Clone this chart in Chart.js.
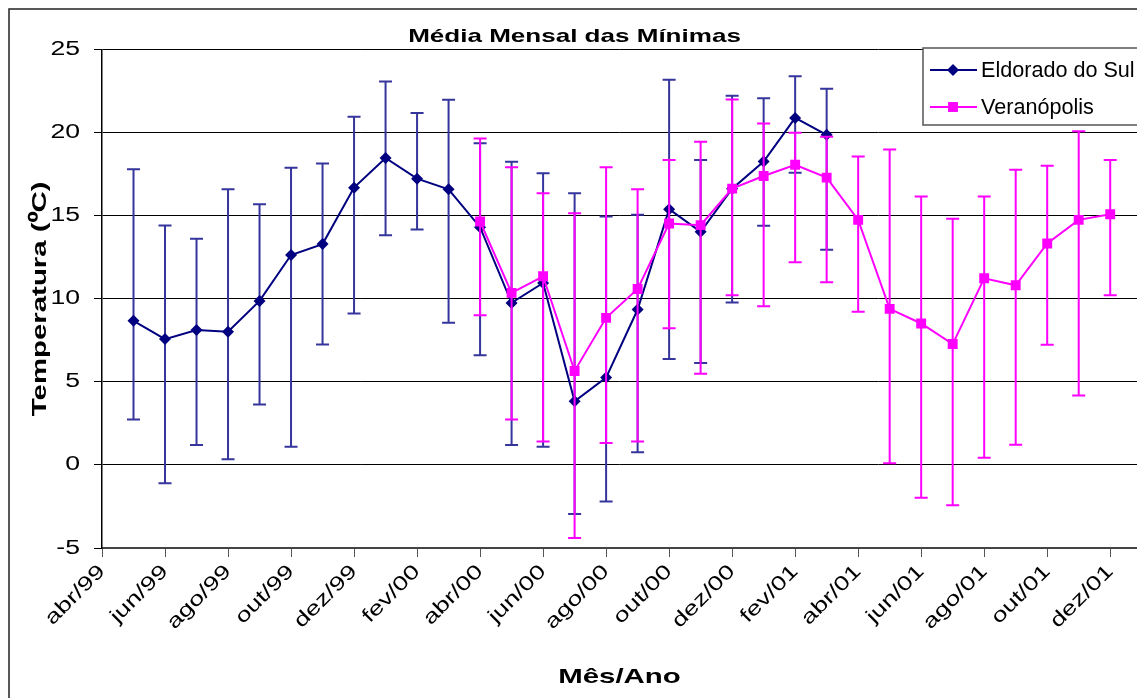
<!DOCTYPE html>
<html lang="pt">
<head>
    <meta charset="UTF-8">
    <title>Média Mensal das Mínimas</title>
    <style>
        body {
            margin: 0;
            background-color: #fff;
        }
        canvas {
            display: block;
        }
    </style>
    <script src="https://cdn.jsdelivr.net/npm/chart.js"></script>
</head>
<body>
    <canvas id="grafico" width="1137" height="698"></canvas>

    <script>
        // meses do eixo X (um por posição, abr/99 = 0)
        const meses = ['abr/99', 'mai/99', 'jun/99', 'jul/99', 'ago/99', 'set/99', 'out/99', 'nov/99', 'dez/99',
            'jan/00', 'fev/00', 'mar/00', 'abr/00', 'mai/00', 'jun/00', 'jul/00', 'ago/00', 'set/00', 'out/00', 'nov/00', 'dez/00',
            'jan/01', 'fev/01', 'mar/01', 'abr/01', 'mai/01', 'jun/01', 'jul/01', 'ago/01', 'set/01', 'out/01', 'nov/01', 'dez/01'];

        // Eldorado do Sul: mai/99 até mar/01
        const eldoradoInicio = 1;
        const eldoradoMedia = [8.68, 7.58, 8.12, 8.02, 9.88, 12.64, 13.3, 16.7, 18.49, 17.24, 16.6, 14.32,
            9.76, 10.96, 3.84, 5.26, 9.36, 15.4, 14.04, 16.64, 18.27, 20.9, 19.88];
        const eldoradoMin = [2.74, -1.1, 1.2, 0.34, 3.64, 1.1, 7.26, 9.12, 13.84, 14.18, 8.56, 6.6,
            1.2, 1.1, -2.96, -2.2, 0.76, 6.38, 6.14, 9.78, 14.4, 17.6, 12.96];
        const eldoradoMax = [17.8, 14.42, 13.62, 16.6, 15.7, 17.9, 18.15, 20.97, 23.09, 21.2, 21.99, 19.37,
            18.26, 17.56, 16.36, 14.96, 15.06, 23.19, 18.37, 22.23, 22.09, 23.41, 22.65];

        // Veranópolis: abr/00 até dez/01
        const veranopolisInicio = 12;
        const veranopolisMedia = [14.66, 10.36, 11.36, 5.66, 8.86, 10.6, 14.54, 14.44, 16.64, 17.4, 18.08, 17.3,
            14.76, 9.4, 8.52, 7.28, 11.24, 10.82, 13.34, 14.76, 15.1];
        const veranopolisMin = [9.02, 2.74, 1.42, -4.4, 1.32, 1.42, 8.24, 5.5, 10.22, 9.56, 12.2, 11.0,
            9.22, 0.1, -1.98, -2.42, 0.44, 1.22, 7.24, 4.18, 10.22];
        const veranopolisMax = [19.66, 17.93, 16.36, 15.16, 17.93, 16.6, 18.37, 19.47, 22.0, 20.56, 20.0, 19.77,
            18.58, 19.0, 16.16, 14.82, 16.16, 17.78, 18.02, 20.1, 18.37];

        const yTicks = [-5, 0, 5, 10, 15, 20, 25];

        function montarPontos(inicio, media, min, max) {
            return media.map((v, i) => ({ x: inicio + i, y: v, yMin: min[i], yMax: max[i] }));
        }

        const fonte = '"Liberation Sans", Arial, sans-serif';

        // o texto do original é mais largo: esticar na direção da linha de base, conforme o tamanho da fonte
        const esticar = { 20: 1.33, 19: 1.37, 21: 1.4, 22: 1.0 };
        const canvas = document.getElementById('grafico');
        const ctx2d = canvas.getContext('2d');
        const fillTextOriginal = ctx2d.fillText.bind(ctx2d);
        ctx2d.fillText = function (texto, x, y, maxWidth) {
            const m = /(\d+(?:\.\d+)?)px/.exec(ctx2d.font);
            const s = m ? (esticar[Math.round(+m[1])] || 1) : 1;
            ctx2d.save();
            ctx2d.translate(x, y);
            ctx2d.scale(s, 1);
            fillTextOriginal(texto, 0, 0);
            ctx2d.restore();
        };

        // barras de erro desenhadas antes de cada série
        const barrasDeErro = {
            id: 'barrasDeErro',
            beforeDatasetDraw(chart, args) {
                const ds = chart.data.datasets[args.index];
                const ctx = chart.ctx;
                const y = chart.scales.y;
                ctx.save();
                ctx.strokeStyle = ds.corErro;
                ctx.lineWidth = 2;
                args.meta.data.forEach((pt, i) => {
                    const d = ds.data[i];
                    const yTop = y.getPixelForValue(d.yMax);
                    const yBot = y.getPixelForValue(d.yMin);
                    ctx.beginPath();
                    ctx.moveTo(pt.x, yTop);
                    ctx.lineTo(pt.x, yBot);
                    ctx.moveTo(pt.x - 6.5, yTop);
                    ctx.lineTo(pt.x + 6.5, yTop);
                    ctx.moveTo(pt.x - 6.5, yBot);
                    ctx.lineTo(pt.x + 6.5, yBot);
                    ctx.stroke();
                });
                ctx.restore();
            }
        };

        // moldura do gráfico
        const moldura = {
            id: 'moldura',
            beforeDraw(chart) {
                const ctx = chart.ctx;
                ctx.save();
                ctx.strokeStyle = '#222';
                ctx.lineWidth = 1.5;
                ctx.strokeRect(9, 9, chart.width + 20, chart.height + 20);
                ctx.restore();
            }
        };

        // legenda dentro da área do gráfico, canto superior direito
        const legendaCaixa = {
            id: 'legendaCaixa',
            afterDraw(chart) {
                const ctx = chart.ctx;
                ctx.save();
                ctx.fillStyle = '#fff';
                ctx.fillRect(923, 48, 240, 77);
                ctx.strokeStyle = '#555';
                ctx.lineWidth = 1.5;
                ctx.strokeRect(923, 48, 240, 77);
                const itens = [chart.data.datasets[1], chart.data.datasets[0]];
                itens.forEach((ds, i) => {
                    const yy = 70 + i * 37;
                    ctx.strokeStyle = ds.borderColor;
                    ctx.lineWidth = 2;
                    ctx.beginPath();
                    ctx.moveTo(930, yy);
                    ctx.lineTo(977, yy);
                    ctx.stroke();
                    ctx.fillStyle = ds.backgroundColor;
                    Chart.helpers.drawPoint(ctx, { pointStyle: ds.pointStyle, radius: ds.pointRadius, borderWidth: 0 }, 953, yy);
                    ctx.fillStyle = '#000';
                    ctx.font = '21.6px ' + fonte;
                    ctx.textBaseline = 'middle';
                    ctx.fillText(ds.label, 981, yy + 1);
                });
                ctx.restore();
            }
        };

        new Chart(canvas, {
            type: 'line',
            data: {
                datasets: [
                    {
                        label: 'Veranópolis',
                        data: montarPontos(veranopolisInicio, veranopolisMedia, veranopolisMin, veranopolisMax),
                        borderColor: '#ff00ff',
                        backgroundColor: '#ff00ff',
                        corErro: '#ff00ff',
                        borderWidth: 2,
                        pointStyle: 'rect',
                        pointRadius: 7,
                        pointBorderWidth: 0,
                        order: 0
                    },
                    {
                        label: 'Eldorado do Sul',
                        data: montarPontos(eldoradoInicio, eldoradoMedia, eldoradoMin, eldoradoMax),
                        borderColor: '#000080',
                        backgroundColor: '#000080',
                        corErro: '#35359c',
                        borderWidth: 2,
                        pointStyle: 'rectRot',
                        pointRadius: 6,
                        pointBorderWidth: 0,
                        order: 1
                    }
                ]
            },
            options: {
                responsive: false,
                animation: false,
                devicePixelRatio: 1,
                layout: {
                    autoPadding: false,
                    padding: { left: 12, right: 0, bottom: 0, top: 0 }
                },
                scales: {
                    x: {
                        type: 'linear',
                        min: 0,
                        max: 32.85,
                        afterFit: s => { s.height = 150; s.paddingLeft = 0; s.paddingRight = 0; },
                        ticks: {
                            stepSize: 2,
                            includeBounds: false,
                            autoSkip: false,
                            minRotation: 45,
                            maxRotation: 45,
                            color: '#000',
                            font: { family: fonte, size: 20 },
                            callback: value => meses[value] || ''
                        },
                        grid: {
                            drawOnChartArea: false,
                            color: '#555',
                            tickLength: 9
                        },
                        border: { color: '#444', width: 2 },
                        title: {
                            display: true,
                            text: 'Mês/Ano',
                            color: '#000',
                            font: { family: fonte, size: 21, weight: 'bold' },
                            padding: { top: 0, bottom: 8 }
                        }
                    },
                    y: {
                        min: -5,
                        max: 25,
                        afterFit: s => { s.width = 90; },
                        afterBuildTicks: s => { s.ticks = yTicks.map(v => ({ value: v })); },
                        ticks: {
                            color: '#000',
                            padding: 14,
                            font: { family: fonte, size: 20 }
                        },
                        grid: {
                            color: '#000',
                            lineWidth: 1,
                            tickLength: 8
                        },
                        border: { color: '#000', width: 1.5 },
                        title: {
                            display: true,
                            text: 'Temperatura (⁰C)',
                            color: '#000',
                            font: { family: fonte, size: 21, weight: 'bold' },
                            padding: { top: 16, bottom: 0 }
                        }
                    }
                },
                plugins: {
                    legend: { display: false },
                    tooltip: { enabled: false },
                    title: {
                        display: true,
                        text: 'Média Mensal das Mínimas',
                        color: '#000',
                        font: { family: fonte, size: 19, weight: 'bold' },
                        padding: { top: 25, bottom: 2 }
                    }
                }
            },
            plugins: [moldura, barrasDeErro, legendaCaixa]
        });
    </script>
</body>
</html>
